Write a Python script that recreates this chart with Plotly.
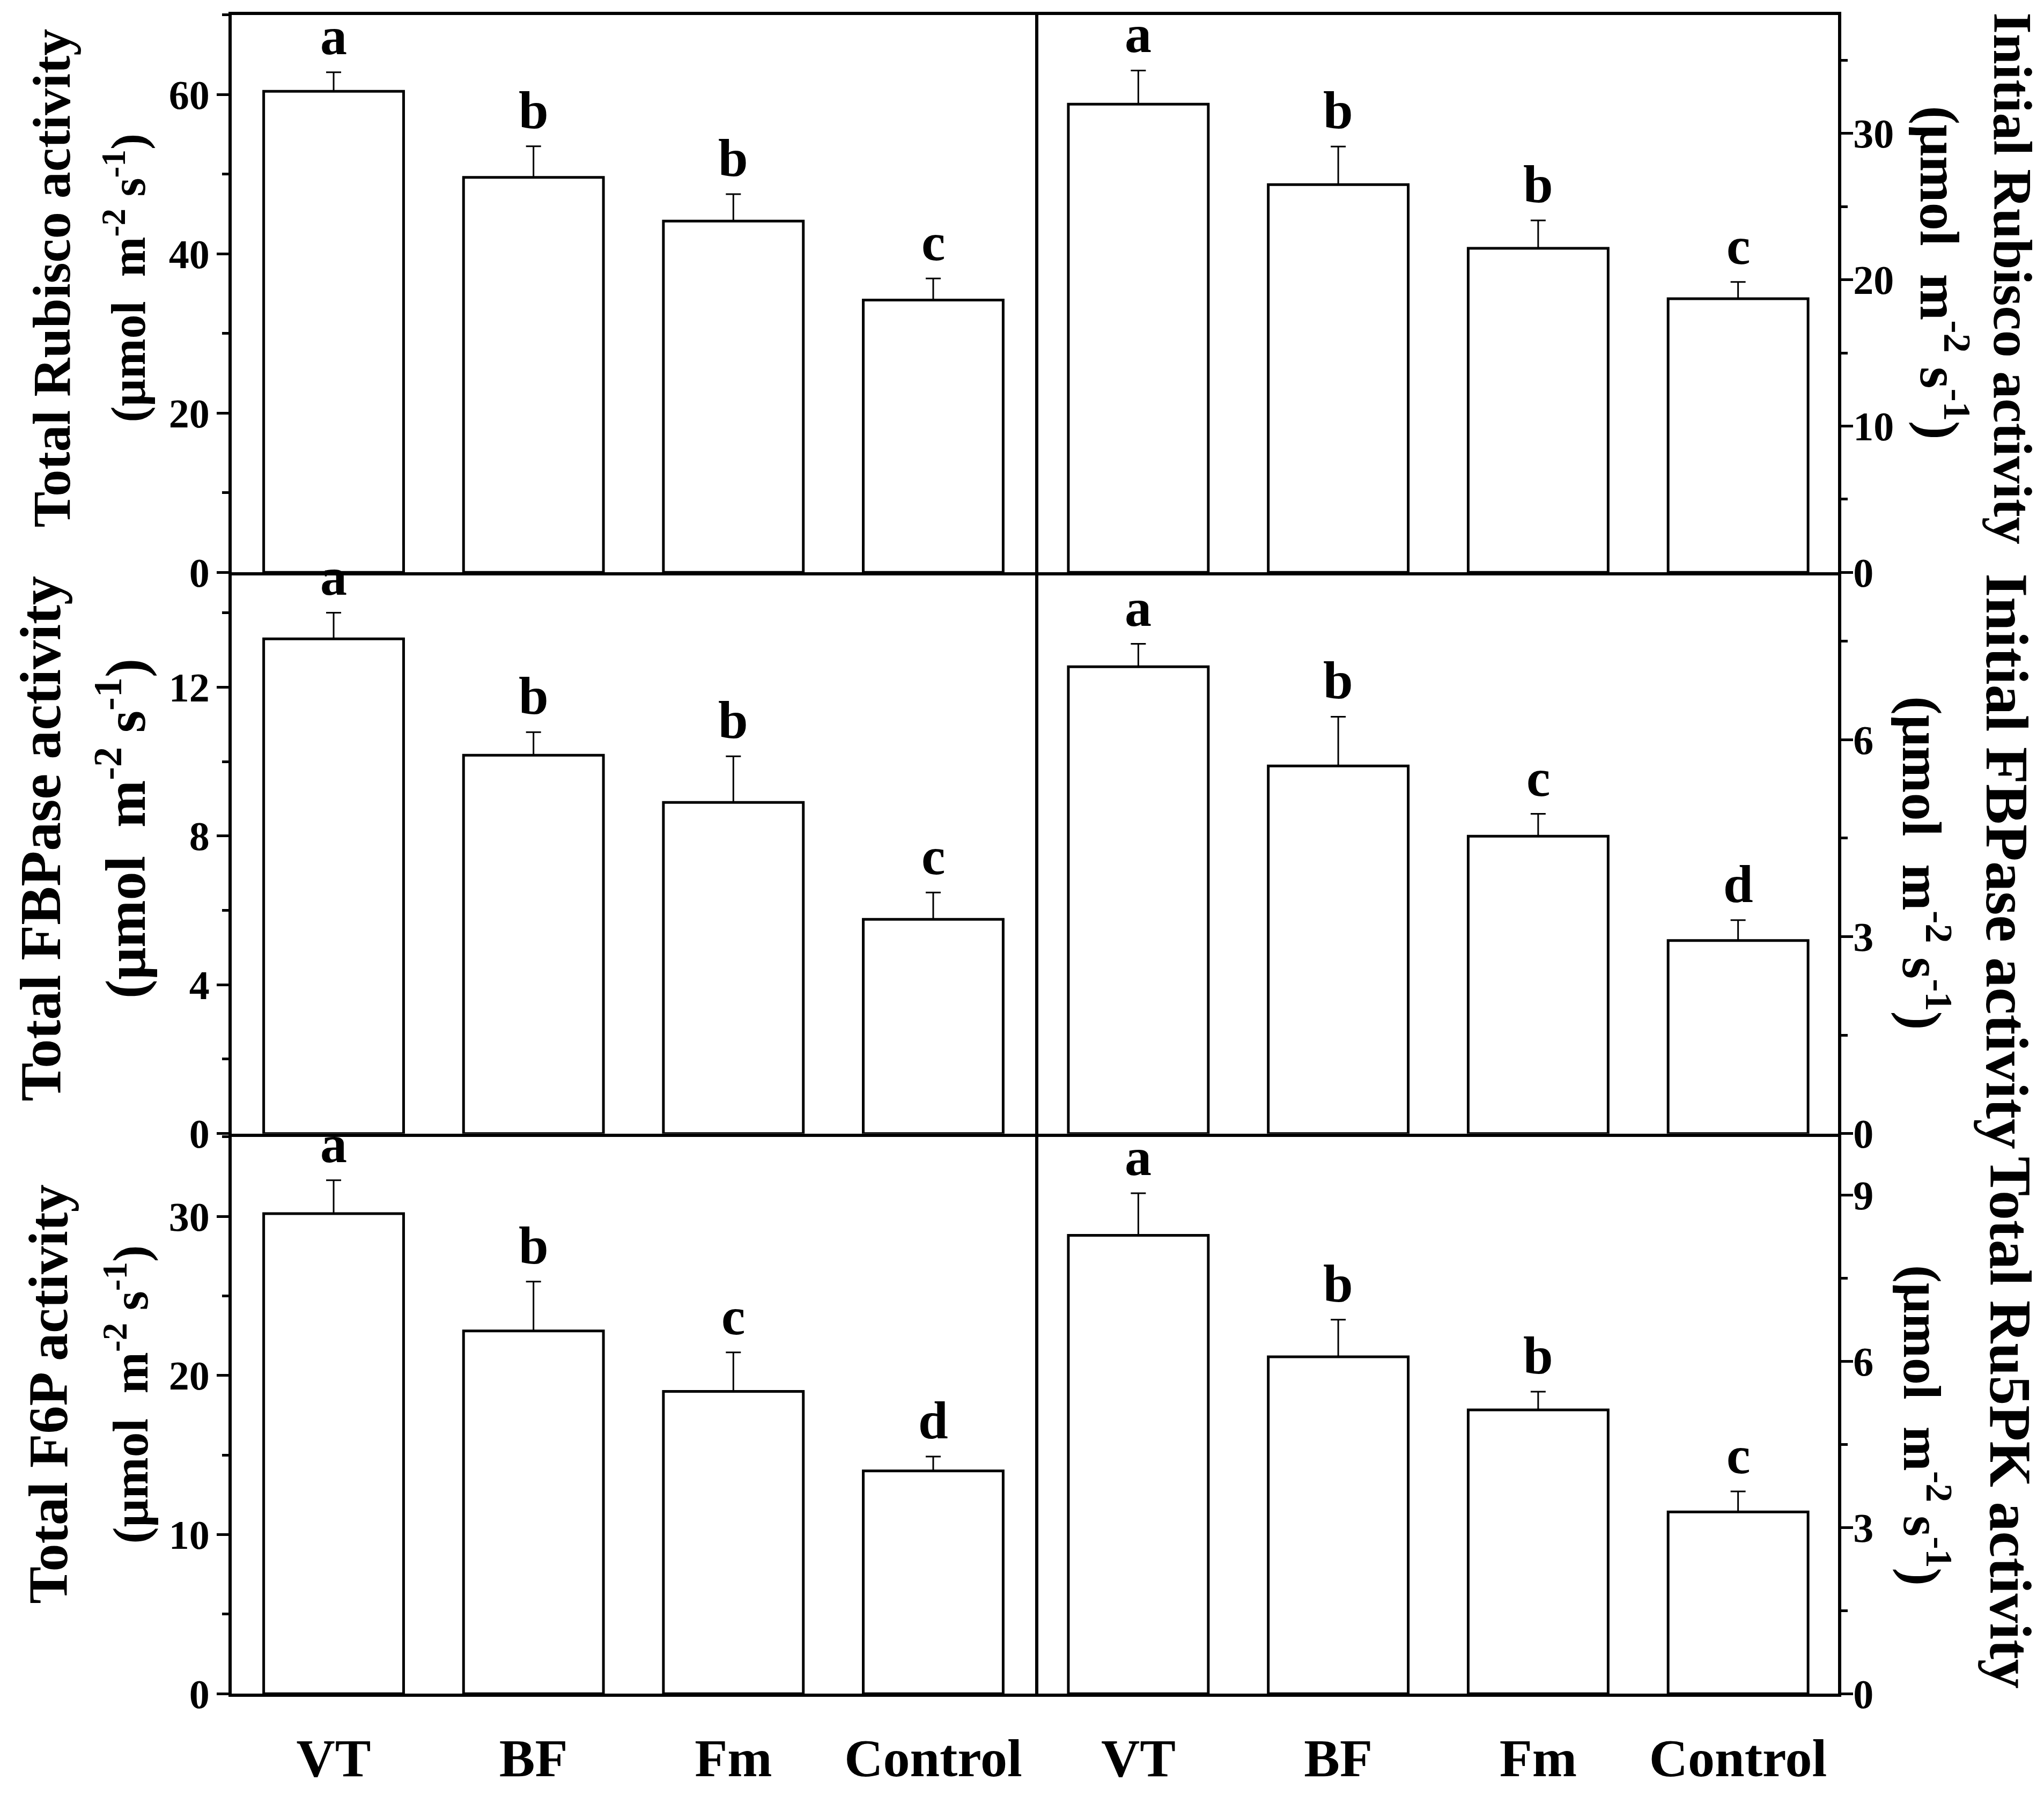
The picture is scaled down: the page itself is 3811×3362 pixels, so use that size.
import plotly.graph_objects as go

# treatments on the x axis
categories = ["VT", "BF", "Fm", "Control"]

# enzyme activities (µmol m-2 s-1)
total_rubisco = [60.4, 49.6, 44.1, 34.2]
total_rubisco_err = [2.4, 3.9, 3.4, 2.7]
total_rubisco_sig = ["a", "b", "b", "c"]

initial_rubisco = [32.0, 26.5, 22.15, 18.7]
initial_rubisco_err = [2.3, 2.6, 1.9, 1.15]
initial_rubisco_sig = ["a", "b", "b", "c"]

total_fbpase = [13.3, 10.17, 8.9, 5.76]
total_fbpase_err = [0.7, 0.62, 1.24, 0.72]
total_fbpase_sig = ["a", "b", "b", "c"]

initial_fbpase = [7.11, 5.6, 4.53, 2.94]
initial_fbpase_err = [0.35, 0.75, 0.34, 0.31]
initial_fbpase_sig = ["a", "b", "c", "d"]

total_f6p = [30.17, 22.8, 19.0, 14.0]
total_f6p_err = [2.1, 3.1, 2.45, 0.9]
total_f6p_sig = ["a", "b", "c", "d"]

total_ru5pk = [8.27, 6.08, 5.12, 3.28]
total_ru5pk_err = [0.76, 0.67, 0.33, 0.37]
total_ru5pk_sig = ["a", "b", "b", "c"]

W, H = 3811, 3362
FONT = "Liberation Serif"
LW = 6  # frame line width
UNIT = "(\u03bcmol\u00a0\u00a0m<sup>-2</sup>\u00a0s<sup>-1</sup>)"

# panel layout: (values, errors, letters, y range, dtick, minor dtick, side)
panels = [
    (total_rubisco, total_rubisco_err, total_rubisco_sig, [0, 70], 20, 10, "left"),
    (initial_rubisco, initial_rubisco_err, initial_rubisco_sig, [0, 38.1], 10, 5, "right"),
    (total_fbpase, total_fbpase_err, total_fbpase_sig, [0, 15], 4, 2, "left"),
    (initial_fbpase, initial_fbpase_err, initial_fbpase_sig, [0, 8.5], 3, 1.5, "right"),
    (total_f6p, total_f6p_err, total_f6p_sig, [0, 35], 10, 5, "left"),
    (total_ru5pk, total_ru5pk_err, total_ru5pk_sig, [0, 10.05], 3, 1.5, "right"),
]

# frame positions in pixels; domains are inset by half a line so shared
# edges of neighbouring panels are drawn on top of each other
h = LW / 2
x_dom = {"left": [(421 + h) / W, (1925 - h) / W], "right": [(1925 + h) / W, (3422 - h) / W]}
row_edges = [17, 1076, 2136, 3194]
row_dom = [[1 - (row_edges[i + 1] - h) / H, 1 - (row_edges[i] + h) / H] for i in range(3)]

fig = go.Figure()
layout = {}
annotations = []

for i, (vals, errs, sig, yr, dt, mdt, side) in enumerate(panels):
    n = i + 1
    row = i // 2
    xa = "x" if n == 1 else f"x{n}"
    ya = "y" if n == 1 else f"y{n}"

    fig.add_trace(go.Bar(
        x=categories, y=vals, xaxis=xa, yaxis=ya,
        marker=dict(color="white", line=dict(color="black", width=5)),
        error_y=dict(type="data", array=errs, arrayminus=[0] * len(errs), symmetric=False,
                     color="black", thickness=3, width=14),
        textposition="none",
        showlegend=False,
    ))

    last_row = row == 2
    layout[f"xaxis{n}" if n > 1 else "xaxis"] = dict(
        domain=x_dom[side], anchor=ya,
        range=[-0.51, 3.51] if side == "left" else [-0.5, 3.5],
        showline=True, linecolor="black", linewidth=LW, mirror=True,
        ticks="", showticklabels=last_row, ticklabelstandoff=28,
        tickfont=dict(family=FONT, size=100, color="black", weight="bold"),
        showgrid=False, zeroline=False, fixedrange=True,
    )
    layout[f"yaxis{n}" if n > 1 else "yaxis"] = dict(
        domain=row_dom[row], anchor=xa, side=side, range=yr,
        dtick=dt, tick0=0, ticks="outside", ticklen=22, tickwidth=5, tickcolor="black",
        minor=dict(dtick=mdt, tick0=0, ticks="outside", ticklen=12, tickwidth=5, tickcolor="black"),
        showline=True, linecolor="black", linewidth=LW, mirror=True,
        ticklabelstandoff=-2 if side == "left" else -15,
        tickfont=dict(family=FONT, size=76, color="black", weight="bold"),
        showgrid=False, zeroline=False,
    )

    # significance letters above each error bar
    for c, v, e, s in zip(categories, vals, errs, sig):
        annotations.append(dict(
            x=c, y=v + e, xref=xa, yref=ya, text=s, showarrow=False,
            yanchor="bottom", yshift=10,
            font=dict(family=FONT, size=100, color="black", weight="bold"),
        ))

# axis titles (two lines each), placed as rotated annotations
# (text, size line 1, size line 2, x1, y1, x2, y2, angle) in pixels
titles = [
    ("Total Rubisco activity", 100, 90, 88, 517, 226, 517, -90),
    ("Initial Rubisco activity", 102, 104, 3745, 518, 3616, 507, 90),
    ("Total FBPase activity", 108, 106, 68, 1576, 219, 1557, -90),
    ("Initial FBPase activity", 113, 104, 3735, 1618, 3582, 1622, 90),
    ("Total F6P activity", 104, 93, 81, 2625, 228, 2626, -90),
    ("Total Ru5PK activity", 110, 100, 3740, 2679, 3583, 2684, 90),
]
for text, s1, s2, x1, y1, x2, y2, ang in titles:
    annotations.append(dict(
        x=x1 / W, y=1 - y1 / H, xref="paper", yref="paper", text=text, showarrow=False,
        textangle=ang, xanchor="center", yanchor="middle",
        font=dict(family=FONT, size=s1, color="black", weight="bold"),
    ))
    annotations.append(dict(
        x=x2 / W, y=1 - y2 / H, xref="paper", yref="paper", text=UNIT, showarrow=False,
        textangle=ang, xanchor="center", yanchor="middle",
        font=dict(family=FONT, size=s2, color="black", weight="bold"),
    ))

fig.update_layout(
    **layout,
    annotations=annotations,
    width=W, height=H,
    margin=dict(l=0, r=0, t=0, b=0),
    paper_bgcolor="white", plot_bgcolor="white",
    bargap=0.3,
    font=dict(family=FONT, color="black"),
)

fig.write_html("out.html")
